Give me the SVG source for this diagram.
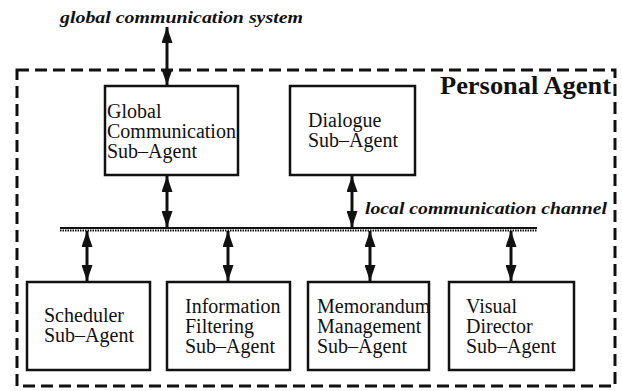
<svg xmlns="http://www.w3.org/2000/svg" width="622" height="391" viewBox="0 0 622 391">
<style>
.box{fill:#fff;stroke:#111;stroke-width:2.5}
.conn{stroke:#111;stroke-width:3;fill:none;marker-start:url(#ah);marker-end:url(#ah)}
</style>
<defs>
<marker id="ah" viewBox="0 0 16 11" refX="16" refY="5.5" markerWidth="16" markerHeight="11" markerUnits="userSpaceOnUse" orient="auto-start-reverse">
<path d="M0,0 L16,5.5 L0,11 z" fill="#111"/>
</marker>
</defs>
<rect id="personal-agent" x="17" y="70" width="598" height="316" fill="none" stroke="#111" stroke-width="3" stroke-dasharray="12 6"/>
<text x="440" y="94" fill="#111" font-family="Liberation Serif, serif" font-size="25" font-weight="bold" textLength="171" lengthAdjust="spacingAndGlyphs">Personal Agent</text>
<text x="60" y="23" fill="#111" font-family="Liberation Serif, serif" font-size="17" font-weight="bold" font-style="italic" textLength="243" lengthAdjust="spacingAndGlyphs">global communication system</text>
<text x="365" y="214" fill="#111" font-family="Liberation Serif, serif" font-size="17" font-weight="bold" font-style="italic" textLength="242" lengthAdjust="spacingAndGlyphs">local communication channel</text>
<g id="bus">
<line x1="60" y1="228" x2="537" y2="228" stroke="#111" stroke-width="2"/>
<line x1="60" y1="230.5" x2="537" y2="230.5" stroke="#111" stroke-width="2" stroke-dasharray="1.5 1"/>
</g>
<g id="connectors">
<line class="conn" x1="167" y1="27" x2="167" y2="85"/>
<line class="conn" x1="167" y1="176" x2="167" y2="227"/>
<line class="conn" x1="352" y1="176" x2="352" y2="227"/>
<line class="conn" x1="87" y1="231" x2="87" y2="281"/>
<line class="conn" x1="228" y1="231" x2="228" y2="281"/>
<line class="conn" x1="370" y1="231" x2="370" y2="281"/>
<line class="conn" x1="511" y1="231" x2="511" y2="281"/>
</g>
<g id="global-comm">
<rect class="box" x="105" y="86" width="133" height="89"/>
<text x="107" y="118" fill="#111" font-family="Liberation Serif, serif" font-size="20">Global</text>
<text x="107" y="138" fill="#111" font-family="Liberation Serif, serif" font-size="20">Communication</text>
<text x="107" y="158" fill="#111" font-family="Liberation Serif, serif" font-size="20">Sub–Agent</text>
</g>
<g id="dialogue">
<rect class="box" x="290" y="86" width="125" height="89"/>
<text x="308" y="127" fill="#111" font-family="Liberation Serif, serif" font-size="20">Dialogue</text>
<text x="308" y="147" fill="#111" font-family="Liberation Serif, serif" font-size="20">Sub–Agent</text>
</g>
<g id="scheduler">
<rect class="box" x="27" y="282" width="123" height="88"/>
<text x="44" y="322" fill="#111" font-family="Liberation Serif, serif" font-size="20">Scheduler</text>
<text x="44" y="342" fill="#111" font-family="Liberation Serif, serif" font-size="20">Sub–Agent</text>
</g>
<g id="info-filtering">
<rect class="box" x="167" y="282" width="123" height="88"/>
<text x="185" y="313" fill="#111" font-family="Liberation Serif, serif" font-size="20">Information</text>
<text x="185" y="333" fill="#111" font-family="Liberation Serif, serif" font-size="20">Filtering</text>
<text x="185" y="353" fill="#111" font-family="Liberation Serif, serif" font-size="20">Sub–Agent</text>
</g>
<g id="memorandum">
<rect class="box" x="308" y="282" width="121" height="88"/>
<text x="317" y="313" fill="#111" font-family="Liberation Serif, serif" font-size="20">Memorandum</text>
<text x="317" y="333" fill="#111" font-family="Liberation Serif, serif" font-size="20">Management</text>
<text x="317" y="353" fill="#111" font-family="Liberation Serif, serif" font-size="20">Sub–Agent</text>
</g>
<g id="visual-director">
<rect class="box" x="449" y="282" width="125" height="88"/>
<text x="466" y="313" fill="#111" font-family="Liberation Serif, serif" font-size="20">Visual</text>
<text x="466" y="333" fill="#111" font-family="Liberation Serif, serif" font-size="20">Director</text>
<text x="466" y="353" fill="#111" font-family="Liberation Serif, serif" font-size="20">Sub–Agent</text>
</g>
</svg>
